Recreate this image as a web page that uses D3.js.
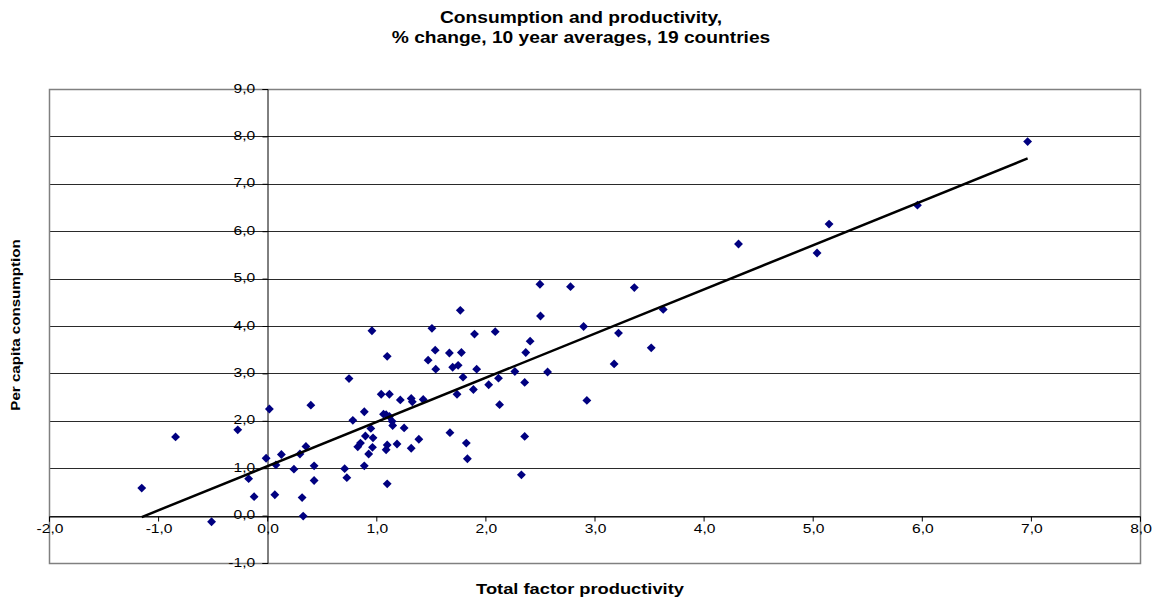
<!DOCTYPE html>
<html>
<head>
<meta charset="utf-8">
<script src="https://cdnjs.cloudflare.com/ajax/libs/d3/7.8.5/d3.min.js"></script>
<style>
body { margin: 0; background: #fff; }
text { font-family: "Liberation Sans", Arial, sans-serif; fill: #000; }
</style>
</head>
<body>
<div id="chart"></div>
<script>
// total factor productivity (x) and per capita consumption (y), 95 observations
var tfp = [
    -1.15, -0.84, -0.27, 0.02, -0.51, -0.01, -0.17, -0.12, 0.07, 0.08,
    0.13, 0.245, 0.32, 0.33, 0.30, 0.355, 0.40, 0.43, 0.43, 0.71,
    0.73, 0.75, 0.785, 0.89, 0.83, 0.855, 0.89, 0.90, 0.95, 0.97,
    0.965, 0.93, 1.045, 1.12, 1.066, 1.09, 1.12, 1.145, 1.15, 1.10,
    1.09, 1.10, 1.19, 1.22, 1.255, 1.32, 1.33, 1.32, 1.39, 1.43,
    1.675, 1.74, 1.825, 1.835, 1.89, 2.03, 2.12, 2.13, 0.96, 1.10,
    1.51, 1.77, 1.475, 1.54, 1.545, 1.67, 1.78, 1.90, 2.09, 1.70,
    1.75, 1.795, 1.92, 2.27, 2.36, 2.37, 2.41, 2.57, 2.50, 2.78,
    2.505, 2.36, 3.365, 2.90, 3.22, 3.52, 3.63, 3.18, 2.93, 2.33,
    4.32, 5.04, 5.15, 5.96, 6.97
];
var consumption = [
    0.58, 1.66, 1.81, 2.25, -0.13, 1.21, 0.78, 0.40, 0.44, 1.07,
    1.29, 0.98, 0.38, -0.01, 1.30, 1.46, 2.33, 1.05, 0.74, 0.99,
    0.80, 2.89, 2.01, 2.19, 1.45, 1.53, 1.05, 1.68, 1.84, 1.64,
    1.44, 1.30, 2.56, 2.56, 2.14, 2.13, 2.09, 1.99, 1.90, 1.49,
    1.39, 0.67, 1.51, 2.44, 1.85, 2.47, 2.40, 1.42, 1.61, 2.45,
    1.75, 2.56, 1.53, 1.20, 2.66, 2.76, 2.90, 2.34, 3.90, 3.36,
    3.95, 4.33, 3.28, 3.49, 3.09, 3.43, 3.44, 3.83, 3.88, 3.13,
    3.17, 2.92, 3.09, 3.04, 2.81, 3.44, 3.68, 3.03, 4.88, 4.83,
    4.21, 1.67, 4.81, 3.99, 3.85, 3.54, 4.35, 3.20, 2.43, 0.86,
    5.73, 5.54, 6.15, 6.55, 7.89
];
var x_ticks = [-2, -1, 0, 1, 2, 3, 4, 5, 6, 7, 8];
var y_ticks = [-1, 0, 1, 2, 3, 4, 5, 6, 7, 8, 9];
var title_lines = ['Consumption and productivity,', '% change, 10 year averages, 19 countries'];
var x_title = 'Total factor productivity';
var y_title = 'Per capita consumption';

var chart_width = 1159;
var chart_height = 598;
var plot = { left: 49, right: 1140, top: 89, bottom: 563 };

var svg = d3.select('#chart')
    .append('svg')
    .attr('width', chart_width)
    .attr('height', chart_height)

var x_scale = d3.scaleLinear()
    .domain([-2, 8])
    .range([plot.left, plot.right])

var y_scale = d3.scaleLinear()
    .domain([-1, 9])
    .range([plot.bottom, plot.top])

var fmt = function (d) {
    return d3.format('.1f')(d).replace('.', ',').replace('\u2212', '-');
}

// text stretched a little horizontally, like the original rendering
function label(x, y, txt, size, sx, anchor, weight, rot) {
    var g = svg.append('g')
        .attr('transform', 'translate(' + x + ',' + y + ')' + (rot ? ' rotate(' + rot + ')' : '') + ' scale(' + sx + ',1)');
    g.append('text')
        .text(txt)
        .attr('font-size', size)
        .attr('font-weight', weight || 'normal')
        .attr('text-anchor', anchor);
}

// gridlines
svg.append('g')
    .selectAll('line')
    .data(y_ticks)
    .enter()
    .append('line')
    .attr('x1', plot.left)
    .attr('x2', plot.right)
    .attr('y1', function (d) { return Math.round(y_scale(d)) + 0.5; })
    .attr('y2', function (d) { return Math.round(y_scale(d)) + 0.5; })
    .attr('stroke', '#2a2a2a')
    .attr('stroke-width', 1)

// plot border
svg.append('rect')
    .attr('x', plot.left + 0.5)
    .attr('y', plot.top + 0.5)
    .attr('width', plot.right - plot.left)
    .attr('height', plot.bottom - plot.top)
    .attr('fill', 'none')
    .attr('stroke', '#808080')
    .attr('stroke-width', 1.5)

// axes crossing at zero
var x_axis = d3.axisBottom(x_scale).tickValues(x_ticks).tickSize(5).tickFormat('');
var y_axis = d3.axisLeft(y_scale).tickValues(y_ticks).tickSize(5).tickFormat('');

svg.append('g')
    .attr('transform', 'translate(0,' + (Math.round(y_scale(0)) + 0.5) + ')')
    .call(x_axis)
    .call(function (g) {
        g.select('.domain').attr('stroke', '#000');
        g.selectAll('.tick line').attr('stroke', '#000');
    })

svg.append('g')
    .attr('transform', 'translate(' + (Math.round(x_scale(0)) + 0.5) + ',0)')
    .call(y_axis)
    .call(function (g) {
        g.select('.domain').attr('stroke', '#000');
        g.selectAll('.tick line').attr('stroke', '#000');
    })

x_ticks.forEach(function (d) {
    label(x_scale(d) + 1, y_scale(0) + 17, fmt(d), 13, 1.2, 'middle');
})
y_ticks.forEach(function (d) {
    label(x_scale(0) - 12, y_scale(d) + 3.5, fmt(d), 13, 1.2, 'end');
})

// points
var points = tfp.map(function (d, i) {
    return { x: d, y: consumption[i] };
})

svg.append('g')
    .selectAll('path')
    .data(points)
    .enter()
    .append('path')
    .attr('d', d3.symbol().type(d3.symbolDiamond2).size(50))
    .attr('transform', function (d) {
        return 'translate(' + x_scale(d.x) + ',' + y_scale(d.y) + ')';
    })
    .attr('fill', '#000080')

// linear trend (least squares)
var mx = d3.mean(tfp);
var my = d3.mean(consumption);
var sxy = d3.sum(points, function (d) { return (d.x - mx) * (d.y - my); });
var sxx = d3.sum(points, function (d) { return (d.x - mx) * (d.x - mx); });
var slope = sxy / sxx;
var intercept = my - slope * mx;
var x_ext = d3.extent(tfp);

svg.append('line')
    .attr('x1', x_scale(x_ext[0]))
    .attr('y1', y_scale(intercept + slope * x_ext[0]))
    .attr('x2', x_scale(x_ext[1]))
    .attr('y2', y_scale(intercept + slope * x_ext[1]))
    .attr('stroke', '#000')
    .attr('stroke-width', 2.5)

// titles
label(581, 23, title_lines[0], 16, 1.2, 'middle', 'bold');
label(581, 43, title_lines[1], 16, 1.2, 'middle', 'bold');
label(580, 594, x_title, 15.5, 1.18, 'middle', 'bold');
label(20, 325, y_title, 13.5, 1.12, 'middle', 'bold', -90);
</script>
</body>
</html>
